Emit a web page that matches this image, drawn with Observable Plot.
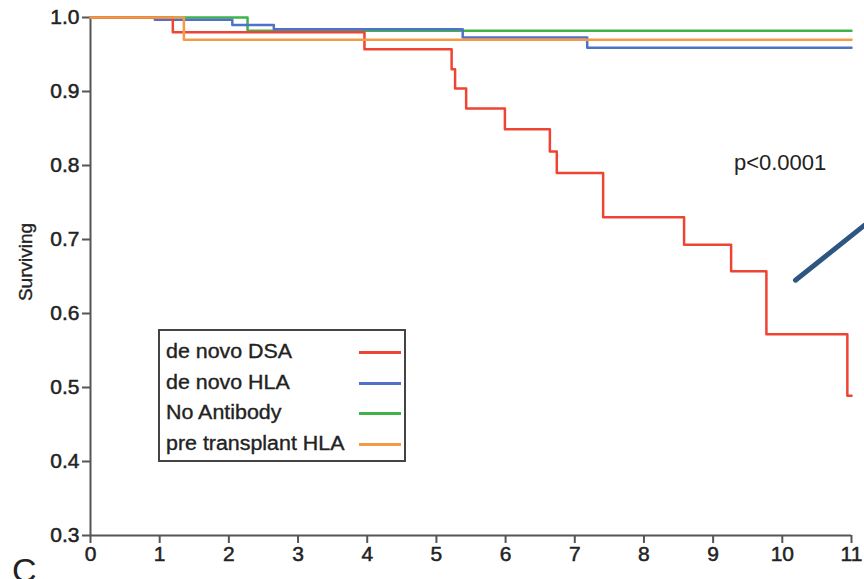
<!DOCTYPE html>
<html>
<head>
<meta charset="utf-8">
<script src="https://cdn.jsdelivr.net/npm/d3@7"></script>
<script src="https://cdn.jsdelivr.net/npm/@observablehq/plot@0.6"></script>
<style>
  html, body { margin: 0; padding: 0; background: #fff; overflow: hidden; }
  #wrap { position: relative; width: 864px; height: 579px; overflow: hidden; font-family: "Liberation Sans", Arial, Helvetica, sans-serif; }
  #wrap svg { position: absolute; left: 0; top: 0; overflow: hidden; }
  #wrap svg g[aria-label$="tick label"] text { stroke: #222; stroke-width: 0.5px; paint-order: stroke; }
  #legend { position: absolute; left: 158px; top: 329px; width: 248px; height: 133px; border: 2px solid #444; background: #fff; box-sizing: border-box; }
  .lrow { position: absolute; left: 6px; font-size: 20px; color: #222; line-height: 1; white-space: nowrap; transform: scaleX(1.07); transform-origin: left center; -webkit-text-stroke: 0.35px #222; }
  .lline { position: absolute; left: 199px; width: 42px; height: 2.5px; }
  #panel { position: absolute; left: 12px; top: 553px; font-size: 34px; color: #222; line-height: 1; }
  #ylab { position: absolute; left: 25px; top: 262px; font-size: 19px; color: #222; line-height: 1; white-space: nowrap; transform: translate(-50%, -50%) rotate(-90deg); -webkit-text-stroke: 0.35px #222; }
</style>
</head>
<body>
<div id="wrap"><div id="panel">C</div></div>
<script>
// Series (time in years, survival probability), Kaplan-Meier steps
const seriesNames = ["de novo DSA", "de novo HLA", "No Antibody", "pre transplant HLA"];
const seriesColors = ["#ee4433", "#4f72c8", "#3fb34a", "#f39a45"];

const dsaTime = [0, 1.19, 3.96, 5.22, 5.27, 5.43, 5.99, 6.64, 6.74, 7.41, 8.58, 9.26, 9.77, 10.94, 11.0];
const dsaSurv = [1.0, 0.980, 0.957, 0.930, 0.904, 0.877, 0.849, 0.819, 0.790, 0.730, 0.693, 0.657, 0.572, 0.489, 0.489];

const hlaTime = [0, 0.93, 2.05, 2.65, 5.38, 7.18, 11.0];
const hlaSurv = [1.0, 0.997, 0.990, 0.984, 0.973, 0.959, 0.959];

const noAbTime = [0, 2.27, 11.0];
const noAbSurv = [1.0, 0.982, 0.982];

const preTime = [0, 1.35, 11.0];
const preSurv = [1.0, 0.970, 0.970];

const xTicks = [0, 1, 2, 3, 4, 5, 6, 7, 8, 9, 10, 11];
const yTicks = [0.3, 0.4, 0.5, 0.6, 0.7, 0.8, 0.9, 1.0];
const yLabel = "Surviving";

const pLabel = ["p<0.0001"];
const pPos = { x: 9.3, y: 0.803 };
const arrowX = [10.19, 11.4];
const arrowY = [0.645, 0.735];

// Build table (draw order: green, blue, red, orange)
const drawOrder = [
  ["No Antibody", noAbTime, noAbSurv],
  ["de novo HLA", hlaTime, hlaSurv],
  ["de novo DSA", dsaTime, dsaSurv],
  ["pre transplant HLA", preTime, preSurv]
];
const rows = drawOrder.flatMap(([name, t, s]) => t.map((v, i) => ({ group: name, time: v, surv: s[i] })));
const arrow = arrowX.map((v, i) => ({ x: v, y: arrowY[i] }));

const font = '"Liberation Sans", Arial, Helvetica, sans-serif';

const chart = Plot.plot({
  width: 864,
  height: 579,
  marginLeft: 90,
  marginRight: 13,
  marginTop: 17,
  marginBottom: 44,
  x: { domain: [0, 11] },
  y: { domain: [0.3, 1.0] },
  color: { domain: seriesNames, range: seriesColors },
  style: { fontFamily: font, color: "#222", background: "#fff", overflow: "hidden" },
  marks: [
    Plot.axisX({ ticks: xTicks, tickSize: 8, tickPadding: 3, label: null, fontSize: 21, stroke: "#555", strokeWidth: 2, fill: "#222" }),
    Plot.axisY({ ticks: yTicks, tickSize: 8, tickPadding: 3, tickFormat: ".1f", label: null, fontSize: 21, stroke: "#555", strokeWidth: 2, fill: "#222" }),
    Plot.ruleX([0], { stroke: "#555", strokeWidth: 2 }),
    Plot.ruleY([0.3], { stroke: "#555", strokeWidth: 2 }),
    Plot.line(rows, { x: "time", y: "surv", z: "group", stroke: "group", curve: "step-after", strokeWidth: 2.5 }),
    Plot.text(pLabel, { x: () => pPos.x, y: () => pPos.y, text: d => d, textAnchor: "start", fontSize: 22, fill: "#222" }),
    Plot.line(arrow, { x: "x", y: "y", stroke: "#2e5683", strokeWidth: 5 })
  ]
});

const wrap = document.getElementById("wrap");
wrap.insertBefore(chart, wrap.firstChild);

// Y axis title
const yl = document.createElement("div");
yl.id = "ylab";
yl.textContent = yLabel;
wrap.appendChild(yl);

// Legend box
const legend = document.createElement("div");
legend.id = "legend";
const rowTops = [10, 41, 71, 102];
seriesNames.forEach((name, i) => {
  const t = document.createElement("div");
  t.className = "lrow";
  t.style.top = rowTops[i] + "px";
  t.textContent = name;
  legend.appendChild(t);
  const l = document.createElement("div");
  l.className = "lline";
  l.style.top = (rowTops[i] + 10) + "px";
  l.style.background = seriesColors[i];
  legend.appendChild(l);
});
wrap.appendChild(legend);
</script>
</body>
</html>
